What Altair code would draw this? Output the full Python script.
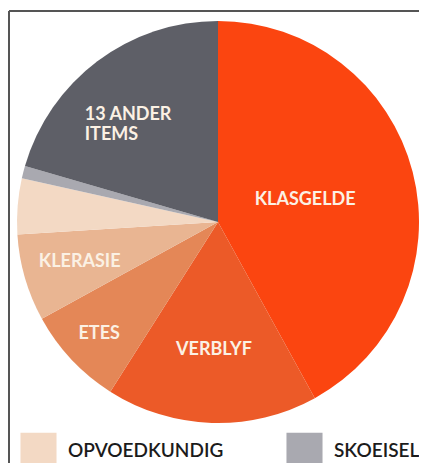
import altair as alt
import pandas as pd

categories = ["KLASGELDE", "VERBLYF", "ETES", "KLERASIE", "OPVOEDKUNDIG", "SKOEISEL", "13 ANDER ITEMS"]
shares = [42, 17, 8, 7, 4.5, 1, 20.5]
labels = ["KLASGELDE", "VERBLYF", "ETES", "KLERASIE", "", "", "13 ANDER\nITEMS"]
colors = ["#fb4510", "#ec5a28", "#e48757", "#e9b592", "#f3d9c4", "#a9a9b0", "#5e5f67"]
legend_items = ["OPVOEDKUNDIG", "SKOEISEL"]

df = pd.DataFrame({
    "cat": categories,
    "share": shares,
    "label": labels,
    "idx": list(range(len(categories))),
})

W, H = 411, 455
CX, CY, R = 210, 214, 201

color = alt.Color(
    "cat:N",
    scale=alt.Scale(domain=categories, range=colors),
    legend=alt.Legend(
        values=legend_items,
        orient="none",
        legendX=12,
        legendY=424,
        direction="horizontal",
        title=None,
        symbolType="square",
        symbolSize=1300,
        symbolStrokeWidth=0,
        labelFontSize=19,
        labelFont="Lato",
        labelFontWeight=600,
        labelColor="#1b1b1b",
        labelOffset=11,
        columnPadding=62,
        labelLimit=300,
    ),
)

base = alt.Chart(df).encode(
    theta=alt.Theta("share:Q", stack=True),
    order=alt.Order("idx:Q"),
)

pie = base.mark_arc(outerRadius=R, stroke=None).encode(
    color=color,
    x=alt.value(CX),
    y=alt.value(CY),
)

def label_layer(name, radius, **kw):
    return base.mark_text(
        radius=radius, font="Lato", fontWeight="bold", fontSize=18,
        color="#fbf1e4", lineBreak="\n", **kw
    ).encode(
        text=alt.condition(alt.datum.cat == name, "label:N", alt.value("")),
        x=alt.value(CX),
        y=alt.value(CY),
    )

texts = [
    label_layer("KLASGELDE", 90),
    label_layer("VERBLYF", 128),
    label_layer("ETES", 163),
    label_layer("KLERASIE", 144),
    label_layer("13 ANDER ITEMS", 137, align="left", dx=-51, dy=3, lineHeight=20),
]

frame_top = alt.Chart(df).mark_rule(color="#555555", strokeWidth=2).encode(
    x=alt.value(1), x2=alt.value(W), y=alt.value(3)
)
frame_left = alt.Chart(df).mark_rule(color="#555555", strokeWidth=2).encode(
    x=alt.value(1), y=alt.value(3), y2=alt.value(H)
)

chart = alt.layer(pie, *texts, frame_top, frame_left).properties(
    width=W, height=H,
    autosize=alt.AutoSizeParams(type="none"),
    padding=0,
).configure_view(stroke=None)

chart.save("out.html", embed_options={"renderer": "svg", "actions": False})
